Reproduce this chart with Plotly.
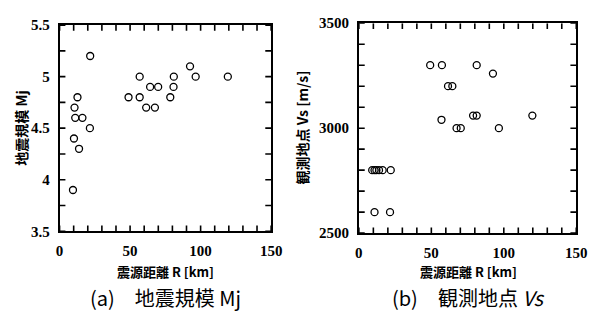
import numpy as np
import plotly.graph_objects as go

# (a) hypocentral distance [km] vs. JMA magnitude
dist_a = [9.5, 10.2, 10.6, 11.1, 12.7, 13.8, 16.2, 21.5, 21.7, 48.9, 56.8,
          56.8, 61.4, 64.2, 67.6, 69.9, 78.5, 80.8, 81.0, 92.5, 96.5, 119.3]
mj = [3.9, 4.4, 4.7, 4.6, 4.8, 4.3, 4.6, 4.5, 5.2, 4.8, 5.0,
      4.8, 4.7, 4.9, 4.7, 4.9, 4.8, 4.9, 5.0, 5.1, 5.0, 5.0]

# (b) hypocentral distance [km] vs. site S-wave velocity [m/s]
dist_b = [9.2, 10.8, 12.1, 13.9, 16.4, 22.0, 10.8, 21.5, 49.2, 57.3, 81.3,
          92.5, 61.5, 64.5, 57.0, 78.8, 81.3, 119.7, 67.4, 70.3, 96.6]
vs = [2800, 2800, 2800, 2800, 2800, 2800, 2600, 2600, 3300, 3300, 3300,
      3260, 3200, 3200, 3040, 3060, 3060, 3060, 3000, 3000, 3000]

# axis ranges and tick steps
x_range, mj_range, vs_range = [0, 150], [3.5, 5.5], [2500, 3500]
x_major, x_minor = 50, 10
mj_major, mj_minor = 0.5, 0.25
vs_major, vs_minor = 500, 100

x_title = "震源距離 R [km]"
y_title_a = "地震規模 Mj"
y_title_b = "観測地点 Vs [m/s]"
caption_a = "(a)\u3000地震規模 Mj"
caption_b = "(b)\u3000観測地点 <i>Vs</i>"

W, H = 598, 320
CJK = "Noto Sans CJK JP"
NUM = "Liberation Serif"
TICK_PX = 6


def px_x(p):
    return p / W


def px_y(p):
    return 1 - p / H


xdom_a, ydom_a = [px_x(57), px_x(274)], [px_y(235), px_y(18)]
xdom_b, ydom_b = [px_x(364), px_x(587)], [px_y(237), px_y(16)]

marker = dict(symbol="circle-open", size=7, color="black",
              line=dict(width=1.3, color="black"))


def inward_ticks(xr, yr, xstep, ystep, xdom, ydom):
    """Tick segments on all four frame sides, pointing into the panel."""
    dx = TICK_PX * (xr[1] - xr[0]) / ((xdom[1] - xdom[0]) * W)
    dy = TICK_PX * (yr[1] - yr[0]) / ((ydom[1] - ydom[0]) * H)
    xs, ys = [], []
    for v in np.arange(xr[0], xr[1] + xstep / 2, xstep):
        v = float(v)
        xs += [v, v, None, v, v, None]
        ys += [yr[0], yr[0] + dy, None, yr[1], yr[1] - dy, None]
    for v in np.arange(yr[0], yr[1] + ystep / 2, ystep):
        v = float(v)
        xs += [xr[0], xr[0] + dx, None, xr[1], xr[1] - dx, None]
        ys += [v, v, None, v, v, None]
    return xs, ys


fig = go.Figure()
tx_a, ty_a = inward_ticks(x_range, mj_range, x_minor, mj_minor, xdom_a, ydom_a)
tx_b, ty_b = inward_ticks(x_range, vs_range, x_minor, vs_minor, xdom_b, ydom_b)
for tx, ty, xa, ya in ((tx_a, ty_a, "x", "y"), (tx_b, ty_b, "x2", "y2")):
    fig.add_trace(go.Scatter(x=tx, y=ty, mode="lines", xaxis=xa, yaxis=ya,
                             line=dict(color="black", width=1.6),
                             connectgaps=False, cliponaxis=False,
                             hoverinfo="skip", showlegend=False))
fig.add_trace(go.Scatter(x=dist_a, y=mj, mode="markers", marker=marker,
                         xaxis="x", yaxis="y", showlegend=False))
fig.add_trace(go.Scatter(x=dist_b, y=vs, mode="markers", marker=marker,
                         xaxis="x2", yaxis="y2", showlegend=False))


def main_axis(rng, dtick, domain, anchor):
    return dict(
        range=rng, domain=domain, anchor=anchor, dtick=dtick,
        showline=True, linecolor="black", linewidth=1.6, mirror=True,
        ticks="", showgrid=False, zeroline=False, fixedrange=True,
        tickfont=dict(family=NUM, size=15, weight=700, color="black"),
        ticklabelstandoff=5,
    )


fig.update_layout(
    width=W, height=H,
    margin=dict(l=0, r=0, t=0, b=0),
    font=dict(color="black"),
    paper_bgcolor="white", plot_bgcolor="white",
    xaxis=main_axis(x_range, x_major, xdom_a, "y"),
    yaxis=main_axis(mj_range, mj_major, ydom_a, "x"),
    xaxis2=main_axis(x_range, x_major, xdom_b, "y2"),
    yaxis2=main_axis(vs_range, vs_major, ydom_b, "x2"),
)

title_font = dict(family=CJK, size=13, weight=700, color="black")
ytitle_font = dict(family=CJK, size=14, weight=700, color="black")
caption_font = dict(family=CJK, size=20, color="black")

annotations = [
    dict(text=y_title_a, x=px_x(18), y=px_y(126.5), textangle=-90, font=ytitle_font),
    dict(text=y_title_b, x=px_x(306), y=px_y(125.5), textangle=-90, font=ytitle_font),
    dict(text=x_title, x=px_x(166), y=px_y(277), font=title_font),
    dict(text=x_title, x=px_x(476), y=px_y(277), font=title_font),
    dict(text=caption_a, x=px_x(166), y=px_y(305), font=caption_font),
    dict(text=caption_b, x=px_x(476), y=px_y(305), font=caption_font),
]
for a in annotations:
    a.update(xref="paper", yref="paper", showarrow=False,
             xanchor="center", yanchor="middle")
fig.update_layout(annotations=annotations)

fig.write_html("out.html")
